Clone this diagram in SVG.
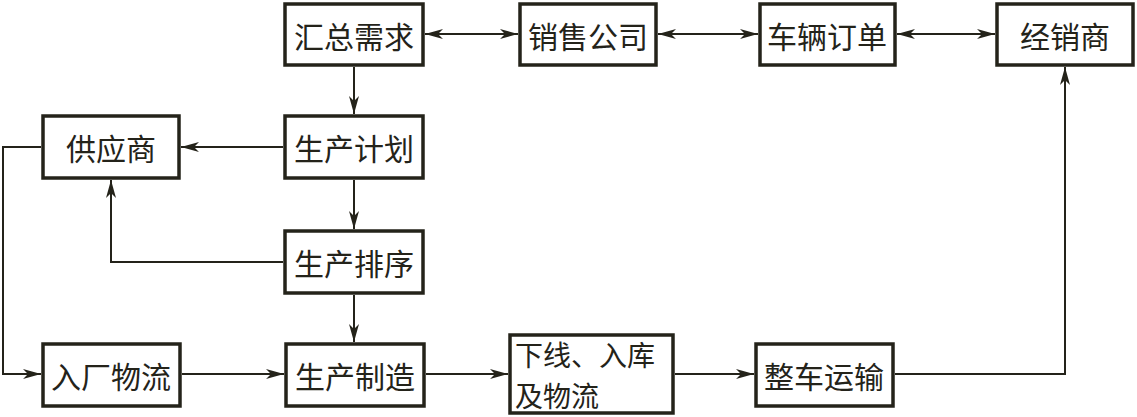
<svg xmlns="http://www.w3.org/2000/svg" width="1137" height="417" viewBox="0 0 1137 417">
<style>
.box{fill:#fff;stroke:#24231a;stroke-width:3.5}
.lbl{font-family:"Noto Sans CJK SC","Noto Sans",sans-serif;font-size:30px;fill:#24231a;text-anchor:middle;dominant-baseline:central}
.lbl2{font-family:"Noto Sans CJK SC","Noto Sans",sans-serif;font-size:28px;fill:#24231a;text-anchor:start;dominant-baseline:central}
.c{fill:none;stroke:#24231a;stroke-width:2}
</style>
<defs>
<marker id="ah" markerUnits="userSpaceOnUse" markerWidth="20" markerHeight="12" refX="18" refY="5" orient="auto-start-reverse">
<path d="M0,0 L18,5 L0,10 L5,5 z" fill="#24231a"/>
</marker>
</defs>
<rect width="1137" height="417" fill="#fff"/>
<g id="connectors">
<line class="c" x1="425" y1="34" x2="518" y2="34" marker-start="url(#ah)" marker-end="url(#ah)"/>
<line class="c" x1="658" y1="34" x2="758" y2="34" marker-start="url(#ah)" marker-end="url(#ah)"/>
<line class="c" x1="897" y1="34" x2="995" y2="34" marker-start="url(#ah)" marker-end="url(#ah)"/>
<line class="c" x1="354" y1="67" x2="354" y2="114" marker-end="url(#ah)"/>
<line class="c" x1="354" y1="180" x2="354" y2="229" marker-end="url(#ah)"/>
<line class="c" x1="354" y1="295" x2="354" y2="342" marker-end="url(#ah)"/>
<line class="c" x1="283" y1="147" x2="181" y2="147" marker-end="url(#ah)"/>
<polyline class="c" points="283,262 111,262 111,180" marker-end="url(#ah)"/>
<polyline class="c" points="41,147 3,147 3,374 41,374" marker-end="url(#ah)"/>
<line class="c" x1="182" y1="374" x2="284" y2="374" marker-end="url(#ah)"/>
<line class="c" x1="426" y1="374" x2="508" y2="374" marker-end="url(#ah)"/>
<line class="c" x1="675" y1="374" x2="754" y2="374" marker-end="url(#ah)"/>
<polyline class="c" points="895,374 1065,374 1065,67" marker-end="url(#ah)"/>
</g>
<g id="n-huizong"><rect class="box" x="285" y="4" width="138" height="61"/><text class="lbl" x="354" y="35">汇总需求</text></g>
<g id="n-xiaoshou"><rect class="box" x="520" y="4" width="136" height="61"/><text class="lbl" x="588" y="35">销售公司</text></g>
<g id="n-dingdan"><rect class="box" x="760" y="4" width="135" height="61"/><text class="lbl" x="827" y="35">车辆订单</text></g>
<g id="n-jingxiao"><rect class="box" x="997" y="4" width="136" height="61"/><text class="lbl" x="1065" y="35">经销商</text></g>
<g id="n-gongying"><rect class="box" x="43" y="116" width="136" height="62"/><text class="lbl" x="111" y="147">供应商</text></g>
<g id="n-jihua"><rect class="box" x="285" y="116" width="138" height="62"/><text class="lbl" x="354" y="147">生产计划</text></g>
<g id="n-paixu"><rect class="box" x="285" y="231" width="138" height="62"/><text class="lbl" x="354" y="262">生产排序</text></g>
<g id="n-ruchang"><rect class="box" x="43" y="344" width="137" height="62"/><text class="lbl" x="111" y="375">入厂物流</text></g>
<g id="n-zhizao"><rect class="box" x="286" y="344" width="138" height="62"/><text class="lbl" x="355" y="375">生产制造</text></g>
<g id="n-xiaxian"><rect class="box" x="510" y="335" width="163" height="78"/><text class="lbl2" x="515" y="354">下线、入库</text><text class="lbl2" x="515" y="395">及物流</text></g>
<g id="n-yunshu"><rect class="box" x="756" y="344" width="137" height="62"/><text class="lbl" x="824" y="375">整车运输</text></g>
</svg>
